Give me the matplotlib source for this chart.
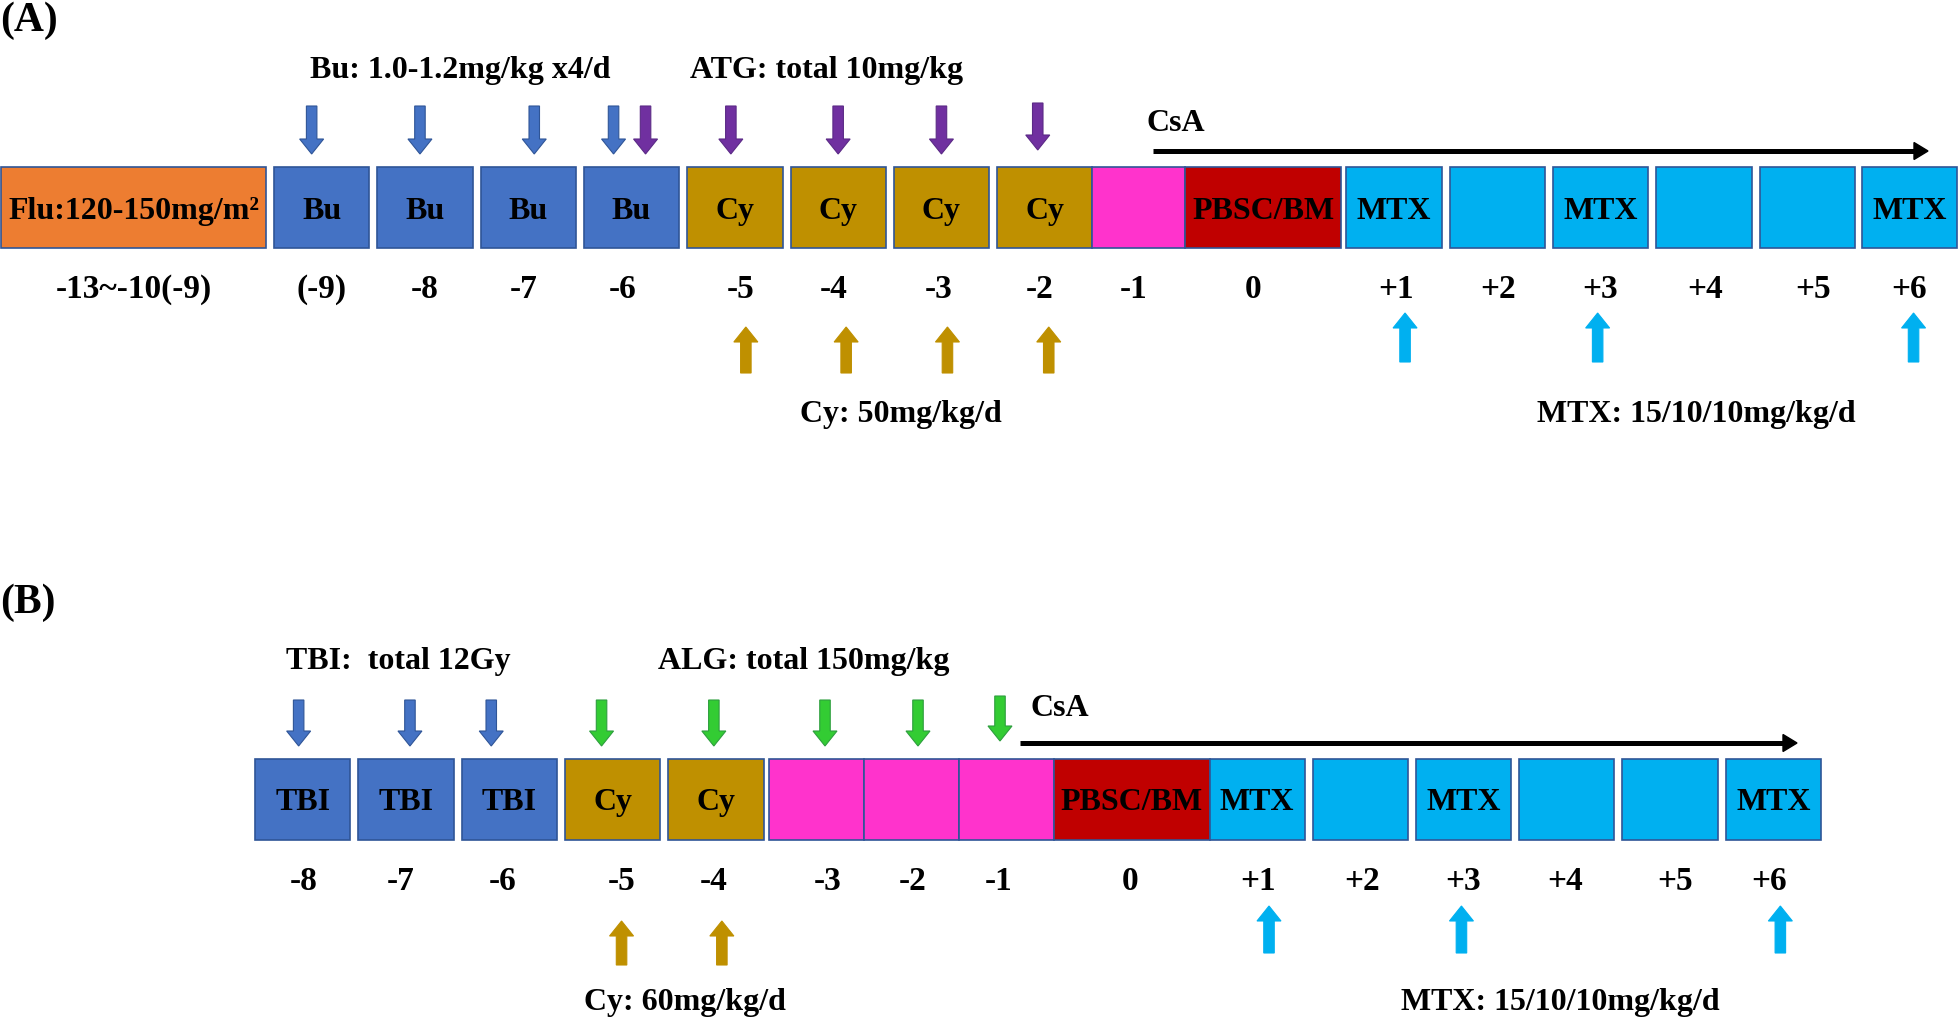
import matplotlib
matplotlib.use("Agg")
import matplotlib.pyplot as plt
from matplotlib.patches import Rectangle, FancyArrow, Polygon

plt.rcParams['font.family'] = ['Liberation Serif', 'DejaVu Serif']

# ---------------- data ----------------
# Panel A
a_box_labels = ["Flu:120-150mg/m²", "Bu", "Bu", "Bu", "Bu", "Cy", "Cy", "Cy", "Cy",
                "", "PBSC/BM", "MTX", "", "MTX", "", "", "MTX"]
a_box_kinds = ["Flu", "Bu", "Bu", "Bu", "Bu", "Cy", "Cy", "Cy", "Cy",
               "rest", "graft", "MTX", "MTX", "MTX", "MTX", "MTX", "MTX"]
a_days = ["-13~-10(-9)", "(-9)", "-8", "-7", "-6", "-5", "-4", "-3", "-2",
          "-1", "0", "+1", "+2", "+3", "+4", "+5", "+6"]
a_bu_days = ["(-9)", "-8", "-7", "-6"]
a_atg_days = ["-6", "-5", "-4", "-3", "-2"]
a_cy_days = ["-5", "-4", "-3", "-2"]
a_mtx_days = ["+1", "+3", "+6"]
a_titles = ["Bu: 1.0-1.2mg/kg x4/d", "ATG: total 10mg/kg"]
a_notes = ["Cy: 50mg/kg/d", "MTX: 15/10/10mg/kg/d"]

# Panel B
b_box_labels = ["TBI", "TBI", "TBI", "Cy", "Cy", "", "", "", "PBSC/BM",
                "MTX", "", "MTX", "", "", "MTX"]
b_box_kinds = ["Bu", "Bu", "Bu", "Cy", "Cy", "rest", "rest", "rest", "graft",
               "MTX", "MTX", "MTX", "MTX", "MTX", "MTX"]
b_days = ["-8", "-7", "-6", "-5", "-4", "-3", "-2", "-1", "0",
          "+1", "+2", "+3", "+4", "+5", "+6"]
b_tbi_days = ["-8", "-7", "-6"]
b_alg_days = ["-5", "-4", "-3", "-2", "-1"]
b_cy_days = ["-5", "-4"]
b_mtx_days = ["+1", "+3", "+6"]
b_titles = ["TBI:  total 12Gy", "ALG: total 150mg/kg"]
b_notes = ["Cy: 60mg/kg/d", "MTX: 15/10/10mg/kg/d"]

# ---------------- styles / layout ----------------
FILL = {"Flu": "#ED7D31", "Bu": "#4472C4", "Cy": "#BF9000", "rest": "#FF33CC",
        "graft": "#C00000", "MTX": "#00B0F0"}
EDGE = "#2F5597"
FS = 23
FS_DAY = 24
FS_PANEL = 30

W = 95.3
a_widths = [265, W, W, W, W, W, W, W, W, 93, 156, W, W, W, W, W, W]
a_gaps = [0, 8, 8, 8, 8, 8, 8, 8, 8, 0, 0, 5, 8, 8, 8, 8, 7]
b_widths = [W, W, W, W, W, 95, 95, 95, 156, 95, W, W, W, W, W]
b_gaps = [0, 8, 8, 8, 8, 5, 0, 0, 0, 0, 8, 8, 8, 8, 8]
# small horizontal nudges of the day labels relative to box centres (px)
a_day_nudge = [0, 0, 0, -5, -9, 6, -4, -3, -5, -5, -10, 2, 1, -1, 1, 6, 0]
b_day_nudge = [1, -5, -7, 9, -2, 12, 2, -7, -1, 1, 2, 0, -2, 5, -4]

fig = plt.figure(figsize=(19.6, 10.22), dpi=100)
ax = fig.add_axes([0, 0, 1, 1])
ax.set_xlim(0, 1960)
ax.set_ylim(1022, 0)
ax.axis("off")


def layout(x0, widths, gaps):
    xs = []
    x = x0
    for w, g in zip(widths, gaps):
        x += g
        xs.append((x, x + w))
        x += w
    return xs


def draw_boxes(xs, labels, kinds, ytop, ybot, text_base):
    for (x0, x1), lab, k in zip(xs, labels, kinds):
        ax.add_patch(Rectangle((x0, ytop), x1 - x0, ybot - ytop, facecolor=FILL[k],
                               edgecolor=EDGE, lw=1.2, zorder=2))
        if lab:
            ax.text((x0 + x1) / 2, text_base, lab, ha="center", va="baseline",
                    fontsize=FS, fontweight="bold", color="black", zorder=3)


def draw_days(xs, days, nudges, base):
    for (x0, x1), d, n in zip(xs, days, nudges):
        ax.text((x0 + x1) / 2 + n, base, d, ha="center", va="baseline",
                fontsize=FS_DAY, fontweight="bold", color="black")


def arrow(x, ystart, yend, color, edge):
    ax.add_patch(FancyArrow(x, ystart, 0, yend - ystart, width=10.5, head_width=24,
                            head_length=15, length_includes_head=True,
                            facecolor=color, edgecolor=edge, lw=0.8, zorder=4))


def centers(xs, days, which):
    return [(xs[days.index(d)][0] + xs[days.index(d)][1]) / 2 for d in which]


def csa(x0, x1, y, text_x, text_base):
    ax.plot([x0, x1 - 12], [y, y], color="black", lw=3.6, solid_capstyle="butt", zorder=3)
    ax.add_patch(Polygon([(x1 - 14, y - 8.5), (x1, y), (x1 - 14, y + 8.5)],
                         closed=True, facecolor="black", edgecolor="black", zorder=3))
    ax.text(text_x, text_base, "CsA", ha="center", va="baseline", fontsize=FS,
            fontweight="bold")


def label(x, y, s, size=FS, ha="center"):
    ax.text(x, y, s, ha=ha, va="baseline", fontsize=size, fontweight="bold", color="black")


# ---------------- Panel A ----------------
label(0, 31, "(A)", FS_PANEL, ha="left")
xa = layout(1, a_widths, a_gaps)
draw_boxes(xa, a_box_labels, a_box_kinds, 167, 248, 219)
draw_days(xa, a_days, a_day_nudge, 298)
label(460, 78, a_titles[0])
label(827, 78, a_titles[1])

bu_off = [-10, -5, 6, -18]
for x, o in zip(centers(xa, a_days, a_bu_days), bu_off):
    arrow(x + o, 106, 154, "#4472C4", EDGE)
atg_off = [14, -4, 0, 0, -7]
atg_top = [106, 106, 106, 106, 103]
atg_tip = [154, 154, 154, 154, 150]
for x, o, t0, t1 in zip(centers(xa, a_days, a_atg_days), atg_off, atg_top, atg_tip):
    arrow(x + o, t0, t1, "#7030A0", "#5B2A86")
cy_off = [11, 8, 6, 4]
for x, o in zip(centers(xa, a_days, a_cy_days), cy_off):
    arrow(x + o, 373, 327, "#BF9000", "#BF9000")
mtx_off = [11, -3, 4]
for x, o in zip(centers(xa, a_days, a_mtx_days), mtx_off):
    arrow(x + o, 362, 313, "#00B0F0", "#00B0F0")
csa(1153, 1928, 151, 1176, 131)
label(901, 422, a_notes[0])
label(1696, 422, a_notes[1])

# ---------------- Panel B ----------------
label(0, 613, "(B)", FS_PANEL, ha="left")
xb = layout(255, b_widths, b_gaps)
draw_boxes(xb, b_box_labels, b_box_kinds, 759, 840, 810)
draw_days(xb, b_days, b_day_nudge, 890)
label(398, 669, b_titles[0])
label(804, 669, b_titles[1])

tbi_off = [-4, 4, -18]
for x, o in zip(centers(xb, b_days, b_tbi_days), tbi_off):
    arrow(x + o, 700, 746, "#4472C4", EDGE)
alg_off = [-11, -2, 9, 7, -6]
alg_top = [700, 700, 700, 700, 696]
alg_tip = [746, 746, 746, 746, 741]
for x, o, t0, t1 in zip(centers(xb, b_days, b_alg_days), alg_off, alg_top, alg_tip):
    arrow(x + o, t0, t1, "#33CC33", "#2E9E3E")
bcy_off = [9, 6]
for x, o in zip(centers(xb, b_days, b_cy_days), bcy_off):
    arrow(x + o, 965, 921, "#BF9000", "#BF9000")
bmtx_off = [12, -2, 7]
for x, o in zip(centers(xb, b_days, b_mtx_days), bmtx_off):
    arrow(x + o, 953, 906, "#00B0F0", "#00B0F0")
csa(1020, 1797, 743, 1060, 716)
label(685, 1010, b_notes[0])
label(1560, 1010, b_notes[1])

fig.savefig("out.png", dpi=100, facecolor="white")
